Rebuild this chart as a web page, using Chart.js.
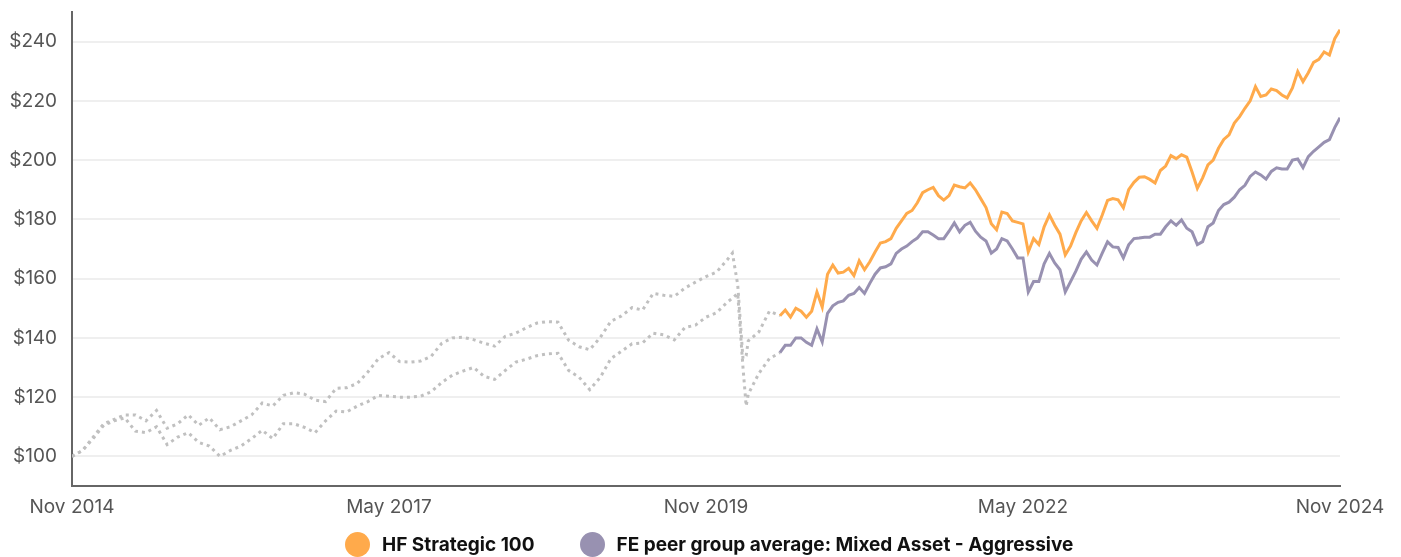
<!DOCTYPE html>
<html>
<head>
<meta charset="utf-8">
<title>HF Strategic 100 vs peer group</title>
<script src="https://cdn.jsdelivr.net/npm/chart.js@4.4.1/dist/chart.umd.min.js"></script>
<style>
  html, body { margin: 0; padding: 0; background: #fff; overflow: hidden; }
  body { font-family: Inter, "Noto Sans", sans-serif; }
  .wrap { position: relative; width: 1401px; height: 557px; }
  .legend {
    position: absolute; left: 345px; top: 532px;
    display: flex; align-items: center;
    font-weight: 700; font-size: 19px; color: #111;
  }
  .legend .item { display: flex; align-items: center; }
  .legend .item + .item { margin-left: 45px; }
  .legend .dot { width: 25px; height: 25px; border-radius: 50%; margin-right: 12px; }
</style>
</head>
<body>
<div class="wrap">
  <canvas id="chart"></canvas>
  <div class="legend" id="legend"></div>
</div>

<script>
// ===============================
// Data (month offsets from Nov 2014)
// ===============================
const months = [
  0, 1, 2, 3, 4, 5, 6, 7, 8, 9, 10, 11, 12, 13, 14, 15, 16, 17, 18, 19, 20,
  21, 22, 23, 24, 25, 26, 27, 28, 29, 30, 31, 32, 33, 34, 35, 36, 37, 38, 39, 40,
  41, 42, 43, 44, 45, 46, 47, 48, 49, 50, 51, 52, 53, 54, 55, 56, 57, 58, 59, 60,
  61, 62, 62.5, 63, 63.5, 63.8, 64, 65, 66, 67,
  67.5, 68, 68.5, 69, 69.5, 70, 70.5, 71, 71.5, 72, 72.5, 73, 73.5, 74, 74.5, 75, 75.5, 76, 76.5, 77, 77.5,
  78, 78.5, 79, 79.5, 80, 80.5, 81, 81.5, 82, 82.5, 83, 83.5, 84, 84.5, 85, 85.5, 86, 86.5, 87, 87.5,
  88, 88.5, 89, 89.5, 90, 90.5, 91, 91.5, 92, 92.5, 93, 93.5, 94, 94.5, 95, 95.5, 96, 96.5, 97, 97.5,
  98, 98.5, 99, 99.5, 100, 100.5, 101, 101.5, 102, 102.5, 103, 103.5, 104, 104.5, 105, 105.5, 106, 106.5, 107, 107.5,
  108, 108.5, 109, 109.5, 110, 110.5, 111, 111.5, 112, 112.5, 113, 113.5, 114, 114.5, 115, 115.5, 116, 116.5, 117, 117.5,
  118, 118.5, 119, 119.5, 120
];

const hfStrategic = [
  100, 102, 106.5, 111, 112.5, 114, 114, 112, 115.5, 109.5, 111, 114, 110.5, 113, 109, 110, 112, 114, 118, 117, 120.6,
  121.5, 121, 119, 118.5, 123, 123.2, 124.6, 128.5, 133, 135, 132, 131.8, 132.2, 133.8, 138.2, 140, 140.2, 139.4, 138.2, 137.2,
  140.5, 141.6, 143.4, 145, 145.5, 145.3, 139.2, 137, 136, 140.2, 145.6, 147.4, 150.2, 149.4, 155, 154.4, 154, 156.8, 158.8, 160.7,
  162.2, 166.3, 168.6, 158, 133, 134, 139, 142, 149, 147.5,
  149.4, 147, 150, 149, 147, 149, 155.5, 150.4, 161.5, 164.6, 161.9, 162.2, 163.5, 161, 166, 163, 165.7, 169, 172, 172.5, 173.5,
  177, 179.5, 182, 183, 185.6, 189, 190, 190.8, 188, 186.5, 188, 191.6, 191, 190.6, 192.3, 190, 187, 184, 178.5, 176.5,
  182.5, 182, 179.5, 179, 178.5, 169, 173.5, 171.5, 177.5, 181.5, 178, 175, 168, 171, 175.5, 179.5, 182.3, 179.5, 177, 181.5,
  186.4, 187, 186.6, 183.9, 190, 192.5, 194.2, 194.4, 193.5, 192.3, 196.5, 198, 201.5, 200.5, 201.8, 201, 196, 190.5, 194, 198.4,
  200, 204, 207, 208.5, 212.5, 214.7, 217.5, 220, 224.8, 221.5, 222, 224, 223.5, 222, 221, 224.4, 229.9, 226.5, 229.5, 233,
  234, 236.5, 235.5, 241, 244
];

const peerAverage = [
  100, 102, 106, 110.5, 112, 113, 108.5, 108, 110, 104, 106.5, 108, 104.7, 103.5, 100, 102, 103.5, 106, 108.8, 106, 111,
  111, 109.8, 108, 112, 115.3, 115, 117, 118.5, 120.6, 120.3, 120, 120, 120.3, 121.8, 125, 127.4, 128.8, 130, 127, 126,
  129, 131.8, 132.8, 134, 134.6, 134.8, 129, 126.7, 122.5, 126.7, 133, 135.5, 138, 138.3, 141.6, 141, 139.3, 143.5, 144.3, 147,
  148.5, 152, 153.4, 155, 130, 117, 121, 128, 133, 135,
  137.5, 137.5, 140, 140, 138.5, 137.5, 143, 138.6, 148.3, 150.8, 152, 152.5, 154.4, 155, 157, 155, 158.4, 161.5, 163.6, 164, 165,
  168.5, 170, 171, 172.5, 173.7, 175.8, 175.8, 174.7, 173.5, 173.5, 176, 178.8, 175.8, 178, 179, 176, 174, 172.7, 168.6, 170,
  173.5, 172.7, 170, 167, 167, 155.5, 159, 159, 165, 168.5, 165.3, 163, 155.5, 159, 162.5, 166.5, 169, 166.3, 164.6, 168.6,
  172.4, 170.7, 170.5, 167, 171.4, 173.5, 173.7, 174, 174, 175, 175, 177.5, 179.5, 178, 179.8, 177, 175.8, 171.5, 172.5, 177.5,
  178.8, 183, 185, 185.8, 187.5, 190, 191.5, 194.5, 196, 195, 193.6, 196.2, 197.4, 197, 197, 200, 200.4, 197.5, 201.2, 203,
  204.5, 206, 206.9, 211, 214.3
];

const seriesNames = ['HF Strategic 100', 'FE peer group average: Mixed Asset - Aggressive'];
const seriesColors = ['#ffaa4b', '#9891b1'];
const historyColor = '#c0c0c0';
const historyEnd = 67; // dotted history before this month

const xTickMonths = [0, 30, 60, 90, 120];
const xTickLabels = ['Nov 2014', 'May 2017', 'Nov 2019', 'May 2022', 'Nov 2024'];
const yTicks = [100, 120, 140, 160, 180, 200, 220, 240];

// ===============================
// Build datasets
// ===============================
function toPoints(values) {
  return values.map((v, i) => ({ x: months[i], y: v }));
}

function makeDataset(name, values, color) {
  return {
    label: name,
    data: toPoints(values),
    borderColor: color,
    borderWidth: 3,
    pointRadius: 0,
    tension: 0,
    segment: {
      borderColor: ctx => ctx.p0.parsed.x < historyEnd ? historyColor : undefined,
      borderDash: ctx => ctx.p0.parsed.x < historyEnd ? [3, 4] : undefined,
      borderWidth: ctx => ctx.p0.parsed.x < historyEnd ? 3 : undefined
    }
  };
}

const tickFont = { family: 'Inter', size: 19 };

new Chart(document.getElementById('chart'), {
  type: 'line',
  data: {
    datasets: [
      makeDataset(seriesNames[0], hfStrategic, seriesColors[0]),
      makeDataset(seriesNames[1], peerAverage, seriesColors[1])
    ]
  },
  options: {
    responsive: true,
    maintainAspectRatio: false,
    animation: false,
    layout: { padding: { left: 0, right: 61, top: 12, bottom: 31 } },
    plugins: {
      legend: { display: false },
      tooltip: { enabled: false }
    },
    scales: {
      x: {
        type: 'linear',
        min: 0,
        max: 120,
        afterBuildTicks: s => { s.ticks = xTickMonths.map(v => ({ value: v })); },
        afterFit: s => { s.height = 40; },
        ticks: {
          font: tickFont,
          color: '#555',
          padding: 10,
          maxRotation: 0,
          callback: v => xTickLabels[xTickMonths.indexOf(v)]
        },
        grid: { display: false, drawTicks: false },
        border: { display: true, color: '#666', width: 2 }
      },
      y: {
        type: 'linear',
        min: 90,
        max: 250,
        afterBuildTicks: s => { s.ticks = yTicks.map(v => ({ value: v })); },
        afterFit: s => { s.width = 72; s.paddingTop = 0; s.paddingBottom = 0; },
        ticks: {
          font: tickFont,
          color: '#555',
          padding: 15,
          callback: v => '$' + v
        },
        grid: { color: '#efefef', lineWidth: 2, drawTicks: false },
        border: { display: true, color: '#666', width: 2 }
      }
    }
  }
});

// HTML legend
const legend = document.getElementById('legend');
seriesNames.forEach((name, i) => {
  const item = document.createElement('div');
  item.className = 'item';
  item.innerHTML = '<span class="dot" style="background:' + seriesColors[i] + '"></span><span>' + name + '</span>';
  legend.appendChild(item);
});
</script>
</body>
</html>
